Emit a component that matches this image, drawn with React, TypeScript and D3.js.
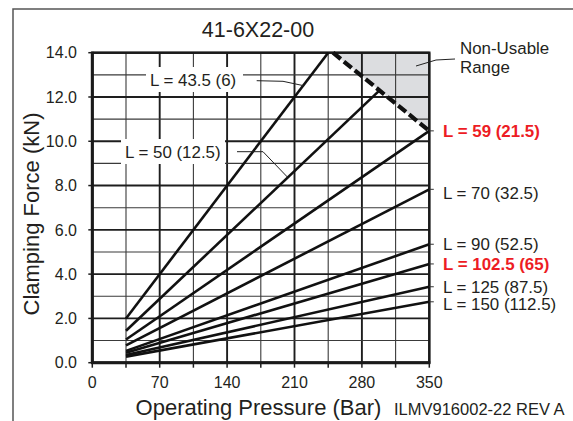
import React, { useEffect, useRef } from "react";
import * as d3 from "d3";

// ---- data ----
const pressureTicks = [0, 70, 140, 210, 280, 350];
const forceTicks = [0, 2, 4, 6, 8, 10, 12, 14];
const lineLabels = [
  "L = 43.5 (6)",
  "L = 50 (12.5)",
  "L = 59 (21.5)",
  "L = 70 (32.5)",
  "L = 90 (52.5)",
  "L = 102.5 (65)",
  "L = 125 (87.5)",
  "L = 150 (112.5)",
];
const startPressure = [35, 35, 35, 35, 35, 35, 35, 35];
const startForce = [2.0, 1.44, 1.05, 0.78, 0.535, 0.446, 0.343, 0.275];
const endPressure = [245, 298.6, 350, 350, 350, 350, 350, 350];
const endForce = [14, 12.31, 10.47, 7.83, 5.35, 4.46, 3.43, 2.75];
const highlighted = [false, false, true, false, false, true, false, false];
const limitPressure = [250, 350];
const limitForce = [14, 10.47];

const W = 573;
const H = 421;
const FONT = "'Liberation Sans', Arial, Helvetica, sans-serif";
const TXT = "#231f20";
const RED = "#ed1c24";
const LBL = 16.9;

export default function App() {
  const ref = useRef<SVGSVGElement | null>(null);

  useEffect(() => {
    const svg = d3.select(ref.current);
    svg.selectAll("*").remove();

    const x = d3.scaleLinear().domain([0, 350]).range([92.3, 429.3]);
    const y = d3.scaleLinear().domain([0, 14]).range([362.7, 52.7]);

    // outer frame
    svg.append("path").attr("d", `M13,${H} V9 H${W}`).attr("fill", "none").attr("stroke", "#555").attr("stroke-width", 1.5);

    // title
    svg.append("text").attr("x", 258).attr("y", 37).attr("text-anchor", "middle")
      .attr("font-family", FONT).attr("font-size", 21.5).attr("fill", TXT).text("41-6X22-00");

    // non-usable shaded region
    svg.append("path")
      .attr("d", `M${x(limitPressure[0])},${y(limitForce[0])} L${x(350)},${y(14)} L${x(limitPressure[1])},${y(limitForce[1])} Z`)
      .attr("fill", "#dcdde0");

    // grid
    const g = svg.append("g");
    const minorX = d3.range(0, 351, 35);
    const minorY = d3.range(0, 14.01, 1);
    minorX.forEach((p) => {
      const major = p % 70 === 0;
      g.append("line").attr("x1", x(p)).attr("x2", x(p)).attr("y1", y(0)).attr("y2", y(14))
        .attr("stroke", major ? "#1e1e1e" : "#3a3a3a").attr("stroke-width", major ? 1.9 : 1.1);
      g.append("line").attr("x1", x(p)).attr("x2", x(p)).attr("y1", y(0)).attr("y2", y(0) + 5)
        .attr("stroke", "#1e1e1e").attr("stroke-width", 1.5);
    });
    minorY.forEach((f) => {
      const major = Math.round(f) % 2 === 0;
      g.append("line").attr("x1", x(0)).attr("x2", x(350)).attr("y1", y(f)).attr("y2", y(f))
        .attr("stroke", major ? "#1e1e1e" : "#3a3a3a").attr("stroke-width", major ? 1.9 : 1.1);
      if (major) {
        g.append("line").attr("x1", x(0) - 4).attr("x2", x(0)).attr("y1", y(f)).attr("y2", y(f))
          .attr("stroke", "#1e1e1e").attr("stroke-width", 1.5);
      }
    });
    // plot border
    g.append("rect").attr("x", x(0)).attr("y", y(14)).attr("width", x(350) - x(0)).attr("height", y(0) - y(14))
      .attr("fill", "none").attr("stroke", "#1a1a1a").attr("stroke-width", 2.4);
    g.append("line").attr("x1", x(0)).attr("x2", x(0)).attr("y1", y(14) - 1).attr("y2", y(0) + 1)
      .attr("stroke", "#1a1a1a").attr("stroke-width", 3);
    g.append("line").attr("x1", x(0) - 1).attr("x2", x(350) + 1).attr("y1", y(0)).attr("y2", y(0))
      .attr("stroke", "#1a1a1a").attr("stroke-width", 3);

    // tick labels
    forceTicks.forEach((f) => {
      svg.append("text").attr("x", 77).attr("y", y(f)).attr("dy", "0.36em").attr("text-anchor", "end")
        .attr("font-family", FONT).attr("font-size", 16).attr("fill", TXT).text(f.toFixed(1));
    });
    pressureTicks.forEach((p) => {
      svg.append("text").attr("x", x(p)).attr("y", 388).attr("text-anchor", "middle")
        .attr("font-family", FONT).attr("font-size", 16).attr("fill", TXT).text(String(p));
    });

    // axis titles
    svg.append("text").attr("transform", "translate(39,214) rotate(-90)").attr("text-anchor", "middle")
      .attr("font-family", FONT).attr("font-size", 22).attr("fill", TXT).text("Clamping Force (kN)");
    svg.append("text").attr("x", 258.5).attr("y", 414.5).attr("text-anchor", "middle")
      .attr("font-family", FONT).attr("font-size", 22).attr("fill", TXT).text("Operating Pressure (Bar)");
    svg.append("text").attr("x", 394).attr("y", 414.5)
      .attr("font-family", FONT).attr("font-size", 16.5).attr("fill", TXT).text("ILMV916002-22 REV A");

    // limit dashed line
    svg.append("line")
      .attr("x1", x(limitPressure[0])).attr("y1", y(limitForce[0]))
      .attr("x2", x(limitPressure[1])).attr("y2", y(limitForce[1]))
      .attr("stroke", "#111").attr("stroke-width", 4.2).attr("stroke-dasharray", "10 4");

    // data lines
    const lineGen = d3.line<[number, number]>().x((d) => x(d[0])).y((d) => y(d[1]));
    lineLabels.forEach((_, i) => {
      svg.append("path")
        .attr("d", lineGen([[startPressure[i], startForce[i]], [endPressure[i], endForce[i]]]))
        .attr("fill", "none").attr("stroke", "#111").attr("stroke-width", 2.6).attr("stroke-linecap", "butt");
    });

    const forceAt = (i: number, p: number) =>
      startForce[i] + ((endForce[i] - startForce[i]) * (p - startPressure[i])) / (endPressure[i] - startPressure[i]);

    // in-plot labels with white boxes and leaders
    const inPlot = [
      { i: 0, tx: 150, ty: 80, box: [146, 67, 97, 25], leader: [[256.7, 80.7], [283, 81.3]], hitP: 219 },
      { i: 1, tx: 125, ty: 151.7, box: [121, 139, 104, 25], leader: [[237, 151.7], [263, 151.7]], hitP: 203 },
    ];
    inPlot.forEach((o) => {
      svg.append("rect").attr("x", o.box[0]).attr("y", o.box[1]).attr("width", o.box[2]).attr("height", o.box[3]).attr("fill", "#fff");
      svg.append("text").attr("x", o.tx).attr("y", o.ty).attr("dy", "0.36em")
        .attr("font-family", FONT).attr("font-size", LBL).attr("fill", TXT).text(lineLabels[o.i]);
      const pts: [number, number][] = [...(o.leader as [number, number][]), [x(o.hitP), y(forceAt(o.i, o.hitP))]];
      svg.append("path").attr("d", d3.line()(pts)).attr("fill", "none").attr("stroke", "#222").attr("stroke-width", 1);
    });

    // right labels
    const nudge = [0, 0, 0, 3.4, 0, 0, 0, 2.5];
    for (let i = 2; i < lineLabels.length; i++) {
      const yy = y(endForce[i]);
      svg.append("line").attr("x1", x(350)).attr("x2", x(350) + 4.5).attr("y1", yy).attr("y2", yy)
        .attr("stroke", "#333").attr("stroke-width", 1);
      svg.append("text").attr("x", 443).attr("y", yy + nudge[i]).attr("dy", "0.36em")
        .attr("font-family", FONT).attr("font-size", LBL)
        .attr("font-weight", highlighted[i] ? "bold" : "normal")
        .attr("fill", highlighted[i] ? RED : TXT).text(lineLabels[i]);
    }

    // Non-usable label
    svg.append("text").attr("x", 460).attr("y", 48.3).attr("dy", "0.36em")
      .attr("font-family", FONT).attr("font-size", LBL).attr("fill", TXT).text("Non-Usable");
    svg.append("text").attr("x", 460).attr("y", 66.7).attr("dy", "0.36em")
      .attr("font-family", FONT).attr("font-size", LBL).attr("fill", TXT).text("Range");
    svg.append("path").attr("d", d3.line()([[416, 66], [436, 60], [455, 59]]))
      .attr("fill", "none").attr("stroke", "#222").attr("stroke-width", 1);
  }, []);

  return (
    <svg ref={ref} width={W} height={H} style={{ position: "absolute", left: 0, top: 0, background: "#fff" }} />
  );
}
